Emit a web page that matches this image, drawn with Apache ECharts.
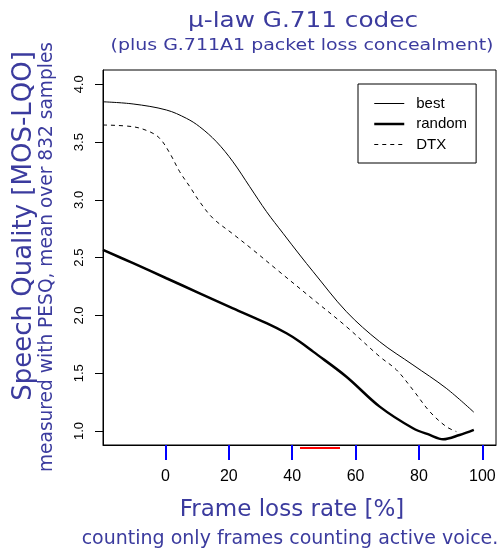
<!DOCTYPE html>
<html>
<head>
<meta charset="utf-8">
<script src="https://cdn.jsdelivr.net/npm/echarts@6/dist/echarts.min.js"></script>
<style>
html, body { margin: 0; padding: 0; background: #fff; }
#chart { width: 500px; height: 553px; }
</style>
</head>
<body>
<div id="chart"></div>
<script>
// frame loss rate [%] and MOS-LQO
var lossBest = [-19.7, -10.2, 0.3, 6.6, 10.8, 16.1, 21.3, 26.6, 31.9, 37.1, 42.4, 46.6, 57.1, 67.6, 78.1, 88.6, 97.3];
var mosBest = [3.849, 3.83, 3.778, 3.706, 3.633, 3.503, 3.33, 3.114, 2.898, 2.711, 2.523, 2.379, 2.033, 1.773, 1.572, 1.37, 1.163];

var lossRandom = [-19.7, -10.2, 0.3, 10.8, 21.3, 31.9, 38.2, 42.4, 46.6, 57.1, 67.6, 78.1, 83.4, 87.6, 92.8, 97.3];
var mosRandom = [2.567, 2.452, 2.322, 2.192, 2.062, 1.933, 1.846, 1.773, 1.687, 1.47, 1.211, 1.024, 0.966, 0.929, 0.966, 1.01];

var lossDtx = [-19.7, -10.2, -5.0, -1.8, 1.4, 4.5, 7.7, 10.8, 15.0, 21.3, 27.6, 35.0, 46.6, 57.1, 67.6, 72.9, 78.1, 83.4, 88.6, 91.8];
var mosDtx = [3.648, 3.633, 3.59, 3.533, 3.403, 3.244, 3.114, 2.984, 2.841, 2.705, 2.568, 2.40, 2.139, 1.903, 1.644, 1.529, 1.356, 1.168, 1.038, 0.995];

var xTicks = [0, 20, 40, 60, 80, 100];
var yTicks = [1.0, 1.5, 2.0, 2.5, 3.0, 3.5, 4.0];

var xMin = -19.7, xMax = 104.3;
var yMin = 0.879, yMax = 4.124;

function pairs(xs, ys) {
    var out = [];
    for (var i = 0; i < xs.length; i++) {
        out.push([xs[i], ys[i]]);
    }
    return out;
}

var blue = '#3b3b9e';
var chart = echarts.init(document.getElementById('chart'));

function label(x, y, text, size, rot, sx) {
    return {
        type: 'text', x: x, y: y, rotation: rot || 0, scaleX: sx || 1,
        style: { text: text, font: size + 'px "DejaVu Sans"', fill: blue, textAlign: 'center', textVerticalAlign: 'middle' }
    };
}

var option = {
    animation: false,
    grid: {
        left: 103, top: 70, right: 4, bottom: 108,
        show: true, borderColor: '#000', borderWidth: 1
    },
    legend: {
        orient: 'vertical',
        left: 358, top: 84,
        borderColor: '#000', borderWidth: 1, borderRadius: 0,
        padding: [12, 9, 11, 15],
        itemWidth: 30, itemHeight: 14, itemGap: 5.5,
        itemStyle: { opacity: 0 },
        lineStyle: { width: 'inherit' },
        textStyle: { fontFamily: 'Liberation Sans', fontSize: 15, color: '#000', padding: [0, 0, 0, 7] },
        data: ['best', 'random', 'DTX']
    },
    xAxis: {
        type: 'value',
        min: xMin, max: xMax,
        splitLine: { show: false },
        axisLine: { show: true, onZero: false, lineStyle: { color: '#000' } },
        axisTick: { show: true, length: 15, customValues: xTicks, lineStyle: { color: 'blue', width: 2 } },
        axisLabel: {
            customValues: xTicks, margin: 24,
            fontFamily: 'Liberation Sans', fontSize: 16, color: '#000'
        }
    },
    yAxis: {
        type: 'value',
        min: yMin, max: yMax,
        splitLine: { show: false },
        axisLine: { show: true, onZero: false, lineStyle: { color: '#000' } },
        axisTick: { show: true, length: 8, customValues: yTicks, lineStyle: { color: '#000', width: 1 } },
        axisLabel: {
            customValues: yTicks, margin: 17, rotate: 90,
            fontFamily: 'Liberation Sans', fontSize: 13, color: '#000',
            formatter: function (v) { return v.toFixed(1); }
        }
    },
    graphic: [
        label(303, 21, 'µ-law G.711 codec', 21.5, 0, 1.15),
        label(302, 46, '(plus G.711A1 packet loss concealment)', 16.5, 0, 1.15),
        label(292, 510, 'Frame loss rate [%]', 23),
        label(290, 539, 'counting only frames counting active voice.', 19),
        label(24, 226, 'Speech Quality [MOS-LQO]', 26, Math.PI / 2),
        label(47, 257, 'measured with PESQ, mean over 832 samples', 18.6, Math.PI / 2),
        { type: 'line', shape: { x1: 300, y1: 448, x2: 340, y2: 448 }, style: { stroke: 'red', lineWidth: 2 } }
    ],
    series: [
        {
            name: 'best', type: 'line', symbol: 'none', smooth: 0.35,
            lineStyle: { color: '#000', width: 1 }, itemStyle: { color: '#000', opacity: 0 },
            data: pairs(lossBest, mosBest)
        },
        {
            name: 'random', type: 'line', symbol: 'none', smooth: 0.35,
            lineStyle: { color: '#000', width: 2.5 }, itemStyle: { color: '#000', opacity: 0 },
            data: pairs(lossRandom, mosRandom)
        },
        {
            name: 'DTX', type: 'line', symbol: 'none', smooth: 0.35,
            lineStyle: { color: '#000', width: 1, type: [4, 4] }, itemStyle: { color: '#000', opacity: 0 },
            data: pairs(lossDtx, mosDtx)
        }
    ]
};

chart.setOption(option);
</script>
</body>
</html>
